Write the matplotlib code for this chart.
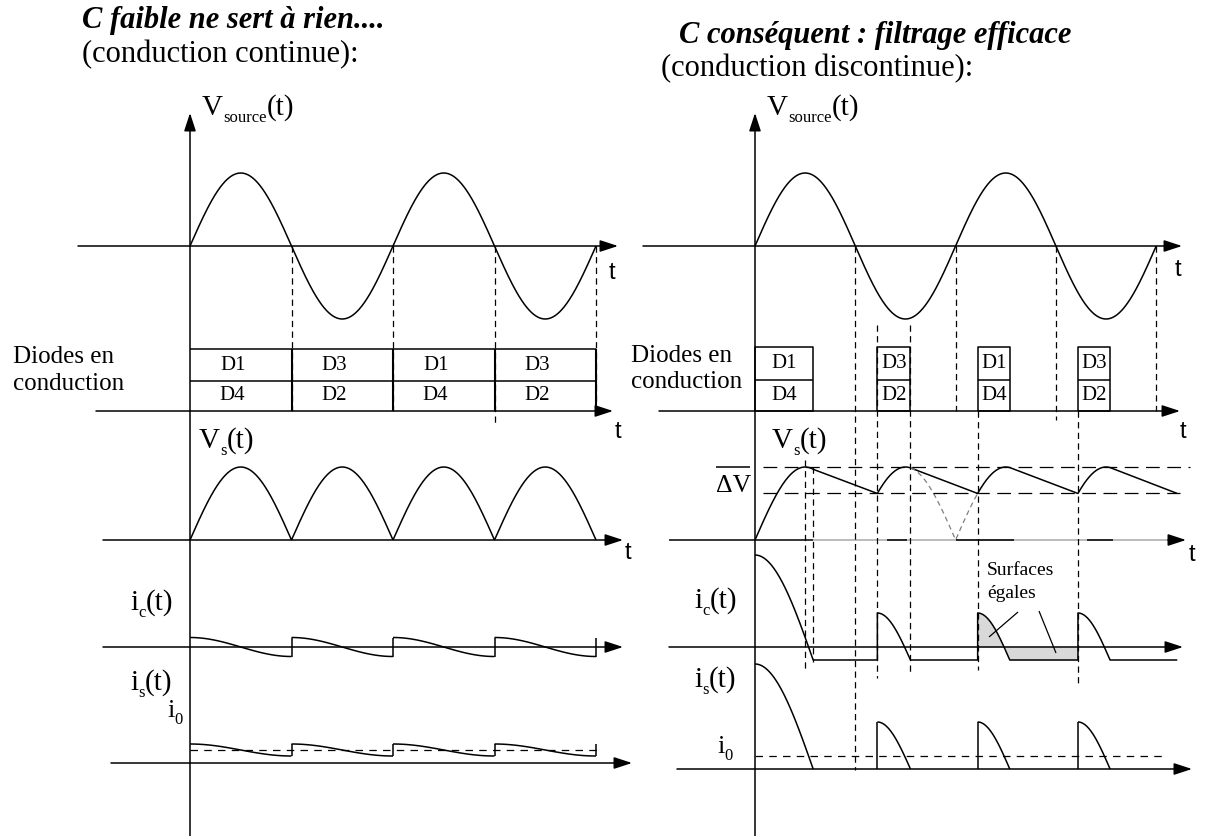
import numpy as np
import matplotlib
matplotlib.use("Agg")
import matplotlib.pyplot as plt

# ─── Données (temps en demi-périodes, amplitudes en px) ─────────────────────
V_AMP = 73.0
N_DEMI = 4

# C faible : conduction continue
DIODES_HAUT_G = ["D1", "D3", "D1", "D3"]
DIODES_BAS_G = ["D4", "D2", "D4", "D2"]
IC_AMP_G = 9.5
IS_RIPPLE_G = 6.0
I0_G = 13.0

# C conséquent : conduction discontinue
DIODES_HAUT_D = ["D1", "D3", "D1", "D3"]
DIODES_BAS_D = ["D4", "D2", "D4", "D2"]
COND_DEBUT = [0.0, 1.22, 2.22, 3.22]
COND_FIN = [0.58, 1.55, 2.54, 3.54]
IC_CRETE = [92.0, 34.0, 34.0, 34.0]
I0_D = 13.0
FIN_TRACE = 4.21
AXE_VS_NOIR = [(1.32, 1.52), (2.0, 2.58), (3.31, 3.57)]

# ─── Mise en page ───────────────────────────────────────────────────────────
W, H = 1206, 836
SERIF = "Liberation Serif"
SANS = "Liberation Sans"
LW_AXE = 1.1
LW_COURBE = 1.1
TIRETS = (0, (5, 3.5))

G = dict(x0=190, demi=101.5, y_src=246, y_diode=411, y_haut=349, y_mil=381,
         y_vs=540, y_ic=647, y_is=763)
D = dict(x0=755, demi=100.3, y_src=246, y_diode=411, y_haut=347, y_mil=380,
         y_vs=540, y_ic=647, y_is=769)

fig = plt.figure(figsize=(W / 100, H / 100), dpi=100)
ax = fig.add_axes([0, 0, 1, 1])
ax.set_xlim(0, W)
ax.set_ylim(H, 0)
ax.axis("off")
renderer = fig.canvas.get_renderer()


def X(p, th):
    return p["x0"] + np.asarray(th) * p["demi"]


def fleche(x1, y1, x2, y2, lw=LW_AXE, color="black"):
    ax.annotate("", xy=(x2, y2), xytext=(x1, y1),
                arrowprops=dict(arrowstyle="-|>,head_length=0.55,head_width=0.18",
                                mutation_scale=20, lw=lw, color=color,
                                shrinkA=0, shrinkB=0))


def trait(xs, ys, lw=LW_COURBE, **kw):
    ax.plot(xs, ys, color=kw.pop("color", "black"), lw=lw,
            solid_capstyle="butt", **kw)


def vtiret(x, y1, y2, color="black"):
    ax.plot([x, x], [y1, y2], color=color, lw=0.9, ls=TIRETS)


def texte(x, y, s, size=20, family=SERIF, **kw):
    return ax.text(x, y, s, fontsize=size, family=family, va="baseline",
                   ha="left", **kw)


def label_indice(x, y, main, sub, tail="(t)", size=21, subsize=12, drop=7):
    t = texte(x, y, main, size)
    x += t.get_window_extent(renderer).width
    t = texte(x, y + drop, sub, subsize)
    x += t.get_window_extent(renderer).width
    if tail:
        texte(x, y, tail, size)


def diodes(x, y1, y2):
    texte(x, y1, "Diodes en", 18)
    texte(x, y2, "conduction", 18)


# ─── Titres ─────────────────────────────────────────────────────────────────
texte(82, 28, "C faible ne sert à rien....", 22, weight="bold", style="italic")
texte(82, 62, "(conduction continue):", 22)
texte(679, 43, "C conséquent : filtrage efficace", 22, weight="bold", style="italic")
texte(661, 76, "(conduction discontinue):", 22)

# ─── Axes communs ───────────────────────────────────────────────────────────
for p, x_src, x_di, x_vs, x_ic, x_is, tips in [
    (G, 78, 96, 103, 103, 111, (618, 613, 623, 623, 632)),
    (D, 643, 659, 669, 669, 677, (1182, 1180, 1186, 1183, 1192)),
]:
    fleche(p["x0"], H, p["x0"], 113)
    fleche(x_src, p["y_src"], tips[0], p["y_src"])
    fleche(x_di, p["y_diode"], tips[1], p["y_diode"])
    if p is G:
        fleche(x_vs, p["y_vs"], tips[2], p["y_vs"])
    fleche(x_ic, p["y_ic"], tips[3], p["y_ic"])
    fleche(x_is, p["y_is"], tips[4], p["y_is"])

th = np.linspace(0, N_DEMI, 800)

# ═══ Panneau gauche : conduction continue ═══════════════════════════════════
p = G
trait(X(p, th), p["y_src"] - V_AMP * np.sin(np.pi * th))
trait(X(p, th), p["y_vs"] - V_AMP * np.abs(np.sin(np.pi * th)))

# tableau des diodes
x_bornes = X(p, np.arange(N_DEMI + 1))
trait([x_bornes[0], x_bornes[-1]], [p["y_haut"]] * 2, lw=LW_AXE)
trait([x_bornes[0], x_bornes[-1]], [p["y_mil"]] * 2, lw=LW_AXE)
for xb in x_bornes[1:]:
    trait([xb, xb], [p["y_haut"], p["y_diode"]], lw=1.5)
for k in range(N_DEMI):
    xc = x_bornes[k] + 0.42 * (x_bornes[k + 1] - x_bornes[k])
    ax.text(xc, (p["y_haut"] + p["y_mil"]) / 2, DIODES_HAUT_G[k], fontsize=15,
            family=SERIF, ha="center", va="center")
    ax.text(xc, (p["y_mil"] + p["y_diode"]) / 2, DIODES_BAS_G[k], fontsize=15,
            family=SERIF, ha="center", va="center")
for k in range(1, N_DEMI + 1):
    vtiret(X(p, k), p["y_src"], p["y_diode"] + (14 if k == 3 else 0))

# courants : ic et is en dents de scie arrondies
u = np.linspace(0, 1, 100)
for k in range(N_DEMI):
    xs = X(p, k + u)
    trait(xs, p["y_ic"] - IC_AMP_G * np.cos(np.pi * u))
    trait(xs, p["y_is"] - I0_G - IS_RIPPLE_G * np.cos(np.pi * u))
    xj = X(p, k + 1)
    trait([xj, xj], [p["y_ic"] + IC_AMP_G, p["y_ic"] - IC_AMP_G])
    trait([xj, xj], [p["y_is"] - I0_G + IS_RIPPLE_G, p["y_is"] - I0_G - IS_RIPPLE_G])
ax.plot([X(p, 0), X(p, N_DEMI) + 5], [p["y_is"] - I0_G] * 2, color="black",
        lw=0.9, ls=(0, (6, 5)))

diodes(13, 363, 390)
label_indice(202, 115, "V", "source")
label_indice(199, 448, "V", "s")
label_indice(130, 610, "i", "c", size=21)
label_indice(130, 690, "i", "s", size=21)
label_indice(167, 717, "i", "0", tail="", size=19)
for xt, yt in [(612, 273), (618, 432), (628, 553)]:
    ax.text(xt, yt, "t", fontsize=17, family=SANS, ha="center", va="center")

# ═══ Panneau droit : conduction discontinue ═════════════════════════════════
p = D
trait(X(p, th), p["y_src"] - V_AMP * np.sin(np.pi * th))

# V_s : suit |sin| pendant la conduction puis décharge linéaire
vs_x, vs_y = [], []
for k in range(N_DEMI):
    t_on, t_off = COND_DEBUT[k], COND_FIN[k]
    tt = np.linspace(t_on, t_off, 60)
    vs_x.extend(tt)
    vs_y.extend(V_AMP * np.abs(np.sin(np.pi * tt)))
    t_next = COND_DEBUT[k + 1] if k + 1 < N_DEMI else FIN_TRACE
    vs_x.append(t_next)
    vs_y.append(V_AMP * abs(np.sin(np.pi * COND_DEBUT[min(k + 1, N_DEMI - 1)])))
trait(X(p, vs_x), p["y_vs"] - np.array(vs_y))

v_min = V_AMP * abs(np.sin(np.pi * COND_DEBUT[1]))
tt = np.linspace(COND_FIN[1], COND_DEBUT[2], 80)
ax.plot(X(p, tt), p["y_vs"] - V_AMP * np.abs(np.sin(np.pi * tt)), color="#808080",
        lw=0.9, ls=(0, (4, 3)))

# axe de V_s (partiellement grisé)
trait([669, X(p, COND_FIN[0])], [p["y_vs"]] * 2, lw=LW_AXE)
trait([X(p, COND_FIN[0]), 1172], [p["y_vs"]] * 2, lw=LW_AXE, color="#a8a8a8")
for a, b in AXE_VS_NOIR:
    trait([X(p, a), X(p, b)], [p["y_vs"]] * 2, lw=LW_AXE)
fleche(1168, p["y_vs"], 1186, p["y_vs"])

# niveaux haut/bas de l'ondulation ΔV
ax.plot([763, 1190], [p["y_vs"] - V_AMP] * 2, color="black", lw=0.9, ls=(0, (11, 6)))
ax.plot([763, 1180], [p["y_vs"] - v_min] * 2, color="black", lw=0.9, ls=(0, (11, 6)))
trait([716, 750], [p["y_vs"] - V_AMP] * 2, lw=LW_AXE)
texte(716, p["y_vs"] - v_min - 1, "ΔV", 18.5)

# tableau des diodes
for k in range(N_DEMI):
    x1, x2 = X(p, COND_DEBUT[k]), X(p, COND_FIN[k])
    trait([x1, x2, x2, x1, x1],
          [p["y_diode"], p["y_diode"], p["y_haut"], p["y_haut"], p["y_diode"]], lw=LW_AXE)
    trait([x1, x2], [p["y_mil"]] * 2, lw=LW_AXE)
    xc = (x1 + x2) / 2
    ax.text(xc, (p["y_haut"] + p["y_mil"]) / 2, DIODES_HAUT_D[k], fontsize=15,
            family=SERIF, ha="center", va="center")
    ax.text(xc, (p["y_mil"] + p["y_diode"]) / 2, DIODES_BAS_D[k], fontsize=15,
            family=SERIF, ha="center", va="center")

# courants ic et is
ic_x, ic_y = [], []
for k in range(N_DEMI):
    t_on, t_off = COND_DEBUT[k], COND_FIN[k]
    uu = np.linspace(0, 1, 80)
    pulse = (IC_CRETE[k] + I0_D) * np.cos(uu * np.pi / 2) - I0_D
    if k > 0:
        ic_x.append(t_on)
        ic_y.append(-I0_D)
    ic_x.extend(t_on + uu * (t_off - t_on))
    ic_y.extend(pulse)
    xs = X(p, t_on + uu * (t_off - t_on))
    trait(xs, p["y_is"] - (pulse + I0_D))
    if k > 0:
        trait([xs[0], xs[0]], [p["y_is"], p["y_is"] - pulse[0] - I0_D])
ic_x.append(FIN_TRACE)
ic_y.append(-I0_D)
ic_x, ic_y = np.array(ic_x), np.array(ic_y)

# surfaces égales (charge = décharge) sur la 3e alternance
m = (ic_x >= COND_DEBUT[2]) & (ic_x <= COND_DEBUT[3])
ax.fill_between(X(p, ic_x[m]), p["y_ic"], p["y_ic"] - ic_y[m], color="#d9d9d9",
                lw=0, zorder=0)
trait(X(p, ic_x), p["y_ic"] - ic_y)
ax.plot([X(p, 0), X(p, 4.1)], [p["y_is"] - I0_D] * 2, color="black", lw=0.9,
        ls=(0, (6, 5)))

# repères verticaux pointillés
for t_v, y1, y2 in [(1, 246, 770), (2, 246, 411), (3, 246, 420), (4, 246, 411),
                    (COND_DEBUT[1], 325, 678), (COND_FIN[1], 325, 675),
                    (COND_DEBUT[2], 411, 670), (COND_DEBUT[3], 411, 687),
                    (0.5, 460, 670), (COND_FIN[0], 467, 662)]:
    vtiret(X(p, t_v), y1, y2)

texte(987, 575, "Surfaces", 14)
texte(987, 598, "égales", 14)
trait([989, 1018], [637, 612], lw=0.9)
trait([1039, 1056], [611, 653], lw=0.9)

diodes(631, 362, 388)
label_indice(767, 115, "V", "source")
label_indice(772, 448, "V", "s")
label_indice(694, 608, "i", "c", size=21)
label_indice(694, 687, "i", "s", size=21)
label_indice(717, 753, "i", "0", tail="", size=19)
for xt, yt in [(1178, 270), (1183, 432), (1192, 555)]:
    ax.text(xt, yt, "t", fontsize=17, family=SANS, ha="center", va="center")

fig.savefig("out.png", dpi=100, facecolor="white")
